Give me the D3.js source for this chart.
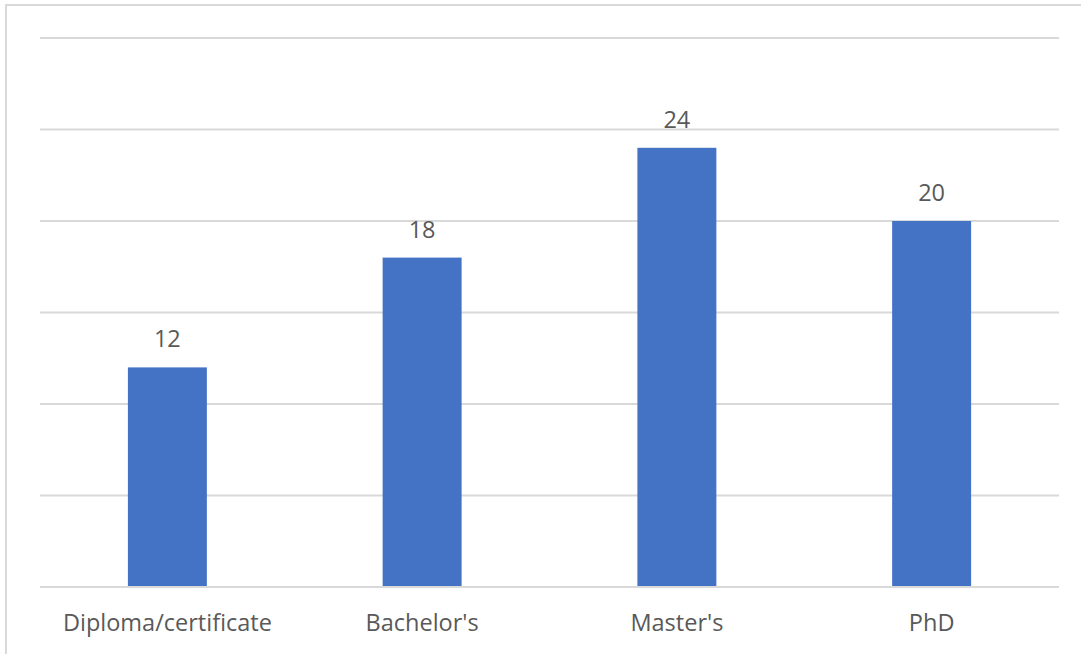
<!DOCTYPE html>
<html>
<head>
<meta charset="utf-8">
<script src="https://cdn.jsdelivr.net/npm/d3@7"></script>
<style>
  body { margin: 0; background: #fff; }
  text { font-family: "Open Sans", sans-serif; fill: #595959; }
</style>
</head>
<body>
<script>
var categories = ["Diploma/certificate", "Bachelor's", "Master's", "PhD"];
var values = [12, 18, 24, 20];
var gridTicks = [0, 5, 10, 15, 20, 25, 30];

var width = 1081, height = 654;
var plot = {left: 40, right: 1059, top: 38, bottom: 587};

var svg = d3.select("body").append("svg")
    .attr("width", width)
    .attr("height", height);

// outer chart border (only top/left visible in the crop)
svg.append("path")
    .attr("d", "M6,654 V5 H1081")
    .attr("fill", "none")
    .attr("stroke", "#d9d9d9")
    .attr("stroke-width", 2);

var x = d3.scaleBand()
    .domain(categories)
    .range([plot.left, plot.right])
    .paddingInner(0.69)
    .paddingOuter(0.345);

var y = d3.scaleLinear()
    .domain([0, 30])
    .range([plot.bottom, plot.top]);

// gridlines
svg.selectAll(".grid")
    .data(gridTicks)
  .enter().append("line")
    .attr("class", "grid")
    .attr("x1", plot.left)
    .attr("x2", plot.right)
    .attr("y1", function(d) { return y(d); })
    .attr("y2", function(d) { return y(d); })
    .attr("stroke", "#d9d9d9")
    .attr("stroke-width", 2);

var data = categories.map(function(c, i) { return {cat: c, val: values[i]}; });

svg.selectAll(".bar")
    .data(data)
  .enter().append("rect")
    .attr("class", "bar")
    .attr("x", function(d) { return x(d.cat); })
    .attr("width", x.bandwidth())
    .attr("y", function(d) { return y(d.val); })
    .attr("height", function(d) { return y(0) - y(d.val) - 1; })
    .attr("fill", "#4472c4");

// value labels
svg.selectAll(".lbl")
    .data(data)
  .enter().append("text")
    .attr("class", "lbl")
    .attr("x", function(d) { return x(d.cat) + x.bandwidth() / 2; })
    .attr("y", function(d) { return y(d.val) - 20; })
    .attr("text-anchor", "middle")
    .attr("font-size", "23.5px")
    .text(function(d) { return d.val; });

// x axis labels
var xAxis = d3.axisBottom(x).tickSize(0).tickPadding(0);
var gx = svg.append("g")
    .attr("transform", "translate(0," + plot.bottom + ")")
    .call(xAxis);
gx.select(".domain").remove();
gx.selectAll("text")
    .attr("y", 44)
    .attr("dy", 0)
    .attr("font-size", "23.5px")
    .style("font-family", "'Open Sans', sans-serif")
    .attr("fill", "#595959");
</script>
</body>
</html>
